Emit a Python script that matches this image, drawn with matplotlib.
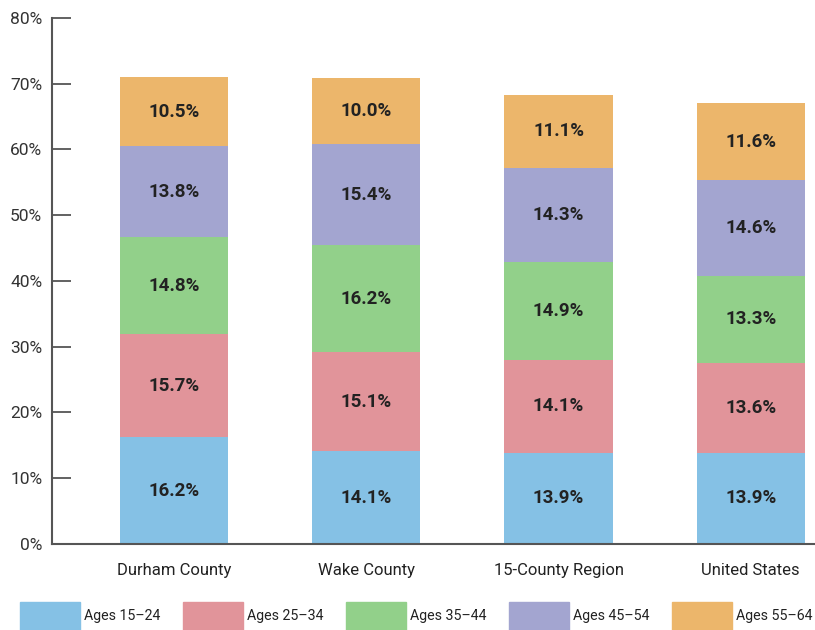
import numpy as np
import matplotlib.pyplot as plt
from matplotlib.patches import Rectangle

categories = ['Durham County', 'Wake County', '15-County Region', 'United States']
series = ['Ages 15–24', 'Ages 25–34', 'Ages 35–44', 'Ages 45–54', 'Ages 55–64']
values = {
    'Ages 15–24': [16.2, 14.1, 13.9, 13.9],
    'Ages 25–34': [15.7, 15.1, 14.1, 13.6],
    'Ages 35–44': [14.8, 16.2, 14.9, 13.3],
    'Ages 45–54': [13.8, 15.4, 14.3, 14.6],
    'Ages 55–64': [10.5, 10.0, 11.1, 11.6],
}
colors = ['#85c1e5', '#e1949a', '#92d08a', '#a3a5d0', '#ecb66b']
yticks = [0, 10, 20, 30, 40, 50, 60, 70, 80]

plt.rcParams['font.family'] = ['Liberation Sans Narrow', 'Roboto', 'DejaVu Sans']

fig = plt.figure(figsize=(8.15, 6.3), dpi=100)
ax = fig.add_axes([0.0638, 0.1365, 0.94, 0.835])

x = np.arange(len(categories))
bottom = np.zeros(len(categories))
for s, c in zip(series, colors):
    v = np.array(values[s])
    ax.bar(x, v, 0.5625, bottom=bottom, color=c, label=s)
    for xi, b, vi in zip(x, bottom, v):
        ax.text(xi, b + vi / 2, f'{vi:.1f}%', ha='center', va='center',
                fontsize=13.5, fontweight='bold', color='#222222')
    bottom += v

ax.set_xlim(-0.635, 3.35)
ax.set_ylim(0, 80)
ax.set_yticks(yticks)
ax.set_yticklabels([f'{t}%' for t in yticks], fontsize=12.5, color='#333333')
ax.set_xticks(x)
ax.set_xticklabels(categories, fontsize=12, color='#222222')
ax.tick_params(axis='x', length=0, pad=14)
ax.tick_params(axis='y', direction='in', length=13.5, width=1.3, color='#555555', pad=7)
for side in ['top', 'right']:
    ax.spines[side].set_visible(False)
for side in ['left', 'bottom']:
    ax.spines[side].set_color('#555555')
    ax.spines[side].set_linewidth(1.5)

# legend along the bottom edge, drawn by hand to match spacing
for i, (s, c) in enumerate(zip(series, colors)):
    x0 = 0.0245 + i * 0.2
    fig.patches.append(Rectangle((x0, 0), 0.0736, 0.0444, transform=fig.transFigure,
                                 color=c, figure=fig))
    fig.text(x0 + 0.078, 0.022, s, fontsize=10.2, color='#222222', va='center', ha='left')

fig.savefig('out.png', dpi=100)
